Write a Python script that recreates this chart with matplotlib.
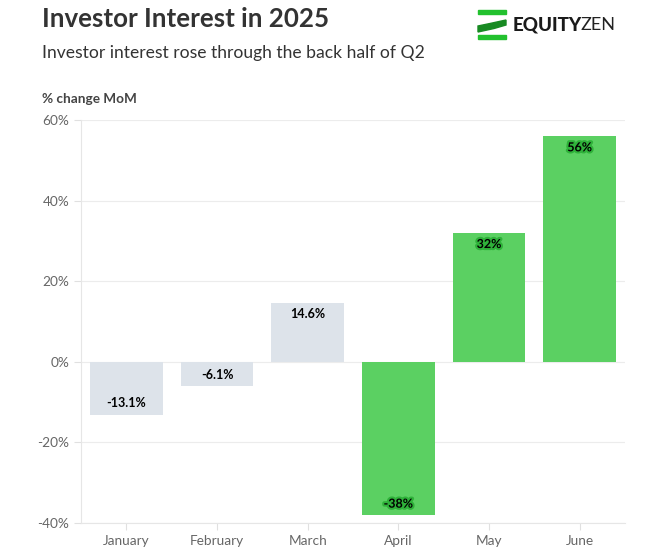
import matplotlib
matplotlib.use("Agg")
import matplotlib.pyplot as plt
import matplotlib.patheffects as pe
from matplotlib.patches import Rectangle, Polygon
import numpy as np

plt.rcParams['font.family'] = ['Lato', 'DejaVu Sans']

months = ['January', 'February', 'March', 'April', 'May', 'June']
mom_change = [-13.1, -6.1, 14.6, -38, 32, 56]
labels = ['-13.1%', '-6.1%', '14.6%', '-38%', '32%', '56%']
highlight = [False, False, False, True, True, True]
yticks = [-40, -20, 0, 20, 40, 60]

grey = '#dde3ea'
green = '#5bd062'
dark_green = '#2fb23a'

fig = plt.figure(figsize=(6.45, 5.56), dpi=100)
ax = fig.add_axes([0.1256, 0.0594, 0.8434, 0.7248])

x = np.arange(len(months))
colors = [green if h else grey for h in highlight]
bars = ax.bar(x, mom_change, width=0.8, color=colors, zorder=2)

for b, lab, h, v in zip(bars, labels, highlight, mom_change):
    cx = b.get_x() + b.get_width() / 2
    if v >= 0:
        y, va = v - 1.3, 'top'
    else:
        y, va = v + 1.3, 'bottom'
    t = ax.text(cx, y, lab, ha='center', va=va, fontsize=9, fontweight='bold',
                color='black', zorder=3)
    if h:
        t.set_path_effects([pe.withStroke(linewidth=3, foreground=dark_green)])

ax.set_xlim(-0.5, 5.5)
ax.set_ylim(-40, 60)
ax.set_yticks(yticks)
ax.set_yticklabels([f'{v}%' for v in yticks])
ax.set_xticks(x)
ax.set_xticklabels(months)
ax.grid(axis='y', color='#ececec', linewidth=0.8, zorder=0)
for s in ['top', 'right']:
    ax.spines[s].set_visible(False)
ax.spines['left'].set_color('#e6e6e6')
ax.spines['bottom'].set_color('#e6e6e6')
ax.tick_params(axis='both', colors='#e0e0e0', labelcolor='#666666', labelsize=9.8, length=5)
ax.tick_params(axis='x', pad=4)

fig.text(42 / 645, 1 - 19 / 556, 'Investor Interest in 2025', fontsize=18.6, fontweight='bold',
         color='#333333', va='center', ha='left')
fig.text(42 / 645, 1 - 53 / 556, 'Investor interest rose through the back half of Q2', fontsize=12.6,
         color='#333333', va='center', ha='left')
fig.text(42 / 645, 1 - 99 / 556, '% change MoM', fontsize=9.8, fontweight='bold',
         color='#444444', va='center', ha='left')

# logo
def px(xp, yp):
    return (xp / 645, 1 - yp / 556)

fig.patches.append(Rectangle(px(478, 14), 28 / 645, 4 / 556, transform=fig.transFigure,
                             color='#22c12e'))
fig.patches.append(Rectangle(px(478, 39), 28 / 645, 4 / 556, transform=fig.transFigure,
                             color='#22c12e'))
wave = [px(478, 26), px(490, 23.5), px(506, 20), px(506, 25), px(494, 28.5), px(478, 32)]
fig.patches.append(Polygon(wave, closed=True, transform=fig.transFigure, color='#178a22'))
fig.text(513 / 645, 1 - 25 / 556, 'EQUITY', fontsize=13.5, fontweight='black', color='#1a1a1a',
         va='center', ha='left')
fig.text(580 / 645, 1 - 25 / 556, 'ZEN', fontsize=13, fontweight='normal', color='#222222',
         va='center', ha='left')

fig.savefig('out.png', dpi=100)
